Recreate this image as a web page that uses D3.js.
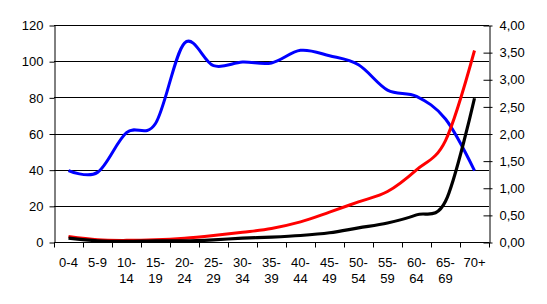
<!DOCTYPE html>
<html>
<head>
<meta charset="utf-8">
<script src="https://cdn.jsdelivr.net/npm/d3@7"></script>
<style>
    body { margin: 0; background: #fff; }
    text { font-family: "Liberation Sans", Arial, sans-serif; font-size: 13px; fill: #000; }
</style>
</head>
<body>
<div id="chart"></div>
<script>
// age groups on the x axis
const ageGroups = ["0-4", "5-9", "10-14", "15-19", "20-24", "25-29", "30-34", "35-39",
    "40-44", "45-49", "50-54", "55-59", "60-64", "65-69", "70+"];

// left axis series
const blueValues = [39.5, 38.5, 60.5, 65.5, 110, 97.5, 99.5, 99, 106, 103, 98, 84, 80.5, 68, 39.5];

// right axis series
const redValues = [0.10, 0.04, 0.03, 0.04, 0.07, 0.12, 0.18, 0.25, 0.37, 0.55, 0.74, 0.93, 1.33, 1.87, 3.53];
const blackValues = [0.07, 0.02, 0.01, 0.02, 0.02, 0.04, 0.07, 0.09, 0.12, 0.17, 0.26, 0.35, 0.5, 0.75, 2.65];

const leftTicks = [0, 20, 40, 60, 80, 100, 120];
const rightTicks = [0, 0.5, 1, 1.5, 2, 2.5, 3, 3.5, 4];

const width = 547;
const height = 304;
const margin = { top: 25, right: 58, bottom: 62, left: 54 };

const svg = d3
    .select("#chart")
    .append("svg")
    .attr("width", width)
    .attr("height", height);

const x = d3
    .scaleBand()
    .domain(ageGroups)
    .range([margin.left, width - margin.right]);

const yLeft = d3
    .scaleLinear()
    .domain([0, 120])
    .range([height - margin.bottom, margin.top]);

const yRight = d3
    .scaleLinear()
    .domain([0, 4])
    .range([height - margin.bottom, margin.top]);

// gridlines
svg.append("g")
    .selectAll("line")
    .data(leftTicks.slice(1))
    .enter()
    .append("line")
    .attr("x1", margin.left)
    .attr("x2", width - margin.right)
    .attr("y1", (d) => Math.round(yLeft(d)) + 0.5)
    .attr("y2", (d) => Math.round(yLeft(d)) + 0.5)
    .attr("stroke", "#000")
    .attr("stroke-width", 1);

// left axis
const leftAxis = svg.append("g")
    .attr("transform", `translate(${margin.left + 0.5},0.5)`)
    .call(d3.axisLeft(yLeft).tickValues(leftTicks).tickSize(5).tickPadding(6).tickSizeOuter(0));

// right axis, ticks cross the line
const rightAxis = svg.append("g")
    .attr("transform", `translate(${width - margin.right + 0.5},0.5)`)
    .call(d3.axisRight(yRight).tickValues(rightTicks).tickSize(3).tickPadding(7).tickSizeOuter(0)
        .tickFormat((d) => d3.format(".2f")(d).replace(".", ",")));
rightAxis.selectAll(".tick line").attr("x1", -6);

// bottom axis, ticks on the band edges
const bottomAxis = svg.append("g")
    .attr("transform", `translate(0,${height - margin.bottom + 0.5})`);
bottomAxis.append("line")
    .attr("x1", margin.left)
    .attr("x2", width - margin.right)
    .attr("stroke", "#000");
bottomAxis.selectAll(".edge")
    .data(ageGroups.concat(["end"]))
    .enter()
    .append("line")
    .attr("class", "edge")
    .attr("x1", (d, i) => Math.round(margin.left + i * x.bandwidth()) + 0.5)
    .attr("x2", (d, i) => Math.round(margin.left + i * x.bandwidth()) + 0.5)
    .attr("y1", 0)
    .attr("y2", 5)
    .attr("stroke", "#000");

const labels = bottomAxis.selectAll(".lbl")
    .data(ageGroups)
    .enter()
    .append("text")
    .attr("class", "lbl")
    .attr("text-anchor", "middle")
    .attr("transform", (d) => `translate(${x(d) + x.bandwidth() / 2},0)`);
labels.each(function (d) {
    const parts = d.length > 4 ? [d.split("-")[0] + "-", d.split("-")[1]] : [d];
    d3.select(this)
        .selectAll("tspan")
        .data(parts)
        .enter()
        .append("tspan")
        .attr("x", 0)
        .attr("y", (p, i) => 24 + i * 16)
        .text((p) => p);
});

svg.selectAll(".domain").attr("stroke", "#000");
svg.selectAll(".tick line").attr("stroke", "#000");
svg.selectAll(".tick text").style("font-size", "13px");

// series lines
const cx = (i) => x(ageGroups[i]) + x.bandwidth() / 2;

const lineLeft = d3.line()
    .x((d, i) => cx(i))
    .y((d) => yLeft(d))
    .curve(d3.curveCardinal.tension(0));

const lineRight = d3.line()
    .x((d, i) => cx(i))
    .y((d) => yRight(d))
    .curve(d3.curveCardinal.tension(0));

svg.append("path")
    .datum(blueValues)
    .attr("d", lineLeft)
    .attr("fill", "none")
    .attr("stroke", "#0000ff")
    .attr("stroke-width", 3);

svg.append("path")
    .datum(redValues)
    .attr("d", lineRight)
    .attr("fill", "none")
    .attr("stroke", "#ff0000")
    .attr("stroke-width", 3);

svg.append("path")
    .datum(blackValues)
    .attr("d", lineRight)
    .attr("fill", "none")
    .attr("stroke", "#000000")
    .attr("stroke-width", 3.2);
</script>
</body>
</html>
